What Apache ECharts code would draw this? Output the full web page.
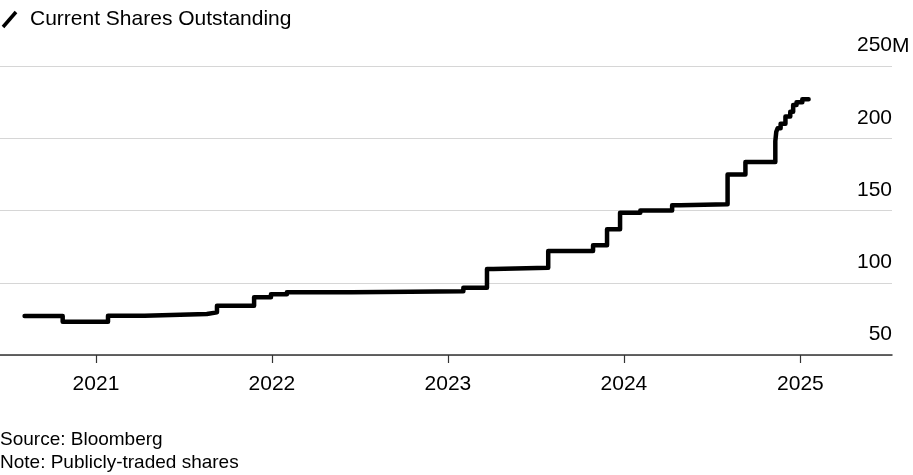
<!DOCTYPE html>
<html>
<head>
<meta charset="utf-8">
<script src="https://cdn.jsdelivr.net/npm/echarts@6/dist/echarts.min.js"></script>
<style>
html,body{margin:0;padding:0;background:#fff;}
#chart{width:913px;height:475px;}
</style>
</head>
<body>
<div id="chart"></div>
<script>
// Data (shares outstanding, millions)
var dates = ['2020-08-06','2020-10-24','2021-01-26','2021-04-12','2021-08-19','2021-09-09','2021-11-25','2021-12-30','2022-02-01','2022-06-15','2022-10-15','2023-02-02','2023-03-23','2023-04-05','2023-07-28','2023-10-29','2023-11-27','2023-12-24','2024-02-04','2024-04-10','2024-04-27','2024-08-03','2024-09-09','2024-11-10','2024-11-12','2024-11-15','2024-11-21','2024-12-01','2024-12-11','2024-12-17','2024-12-24','2025-01-05','2025-01-18'];
var values = [77,73,77.2,78.4,79.5,84,90,92,93.5,93.8,94.2,96.5,109.5,110.4,122,126,137,148.5,150,153.6,154.3,175,183.5,198,204.5,207,210,215,218.4,223,225,227,227];
var yearTicks = [2021,2022,2023,2024,2025];
var yTicks = [50,100,150,200,250];
var seriesName = 'Current Shares Outstanding';
var sourceText = 'Source: Bloomberg';
var noteText = 'Note: Publicly-traded shares';

var FONT = 'Liberation Sans, Arial, sans-serif';
function ts(s){ var p = s.split('-'); return new Date(+p[0], +p[1]-1, +p[2]).getTime(); }
var yearValues = yearTicks.map(function(y){ return new Date(y,0,1).getTime(); });
var seriesData = dates.map(function(d,i){ return [ts(d), values[i]]; });

var chart = echarts.init(document.getElementById('chart'), null, {renderer:'canvas'});
chart.setOption({
  animation: false,
  backgroundColor: '#fff',
  grid: {left: 0, right: 21, top: 66, bottom: 120, containLabel: false},
  xAxis: {
    type: 'value',
    min: ts('2020-06-16'),
    max: ts('2025-07-10'),
    axisLine: {show: true, onZero: false, lineStyle: {color: '#333', width: 1.5}},
    axisTick: {show: true, length: 8, lineStyle: {color: '#333', width: 1.2}, customValues: yearValues},
    axisLabel: {
      customValues: yearValues,
      formatter: function(v){ return String(new Date(v).getFullYear()); },
      color: '#000', fontSize: 21, fontFamily: FONT, margin: 19
    },
    splitLine: {show: false}
  },
  yAxis: {
    type: 'value',
    position: 'right',
    min: yTicks[0], max: yTicks[yTicks.length-1], interval: 50,
    axisLine: {show: false},
    axisTick: {show: false},
    axisLabel: {
      inside: true, margin: 0, color: '#000', fontSize: 21, fontFamily: FONT,
      verticalAlign: 'bottom', padding: [0,0,10,0],
      formatter: function(v){ return String(v); }
    },
    splitLine: {show: true, lineStyle: {color: '#d6d6d6', width: 1}}
  },
  series: [{
    name: seriesName,
    type: 'line',
    step: 'end',
    data: seriesData,
    showSymbol: false,
    symbol: 'none',
    lineStyle: {color: '#000', width: 4.5, cap: 'round', join: 'round'}
  }],
  graphic: [
    {type: 'line', shape: {x1: 3, y1: 27, x2: 16, y2: 12}, style: {stroke: '#000', lineWidth: 3.5}},
    {type: 'text', x: 30, y: 19, style: {text: seriesName, fill: '#000', fontSize: 21, fontFamily: FONT, verticalAlign: 'middle'}},
    {type: 'text', x: 892, y: 57, style: {text: 'M', fill: '#000', fontSize: 21, fontFamily: FONT, verticalAlign: 'bottom'}},
    {type: 'text', x: 0, y: 440, style: {text: sourceText, fill: '#000', fontSize: 19, fontFamily: FONT, verticalAlign: 'middle'}},
    {type: 'text', x: 0, y: 463, style: {text: noteText, fill: '#000', fontSize: 19, fontFamily: FONT, verticalAlign: 'middle'}}
  ]
});
</script>
</body>
</html>
